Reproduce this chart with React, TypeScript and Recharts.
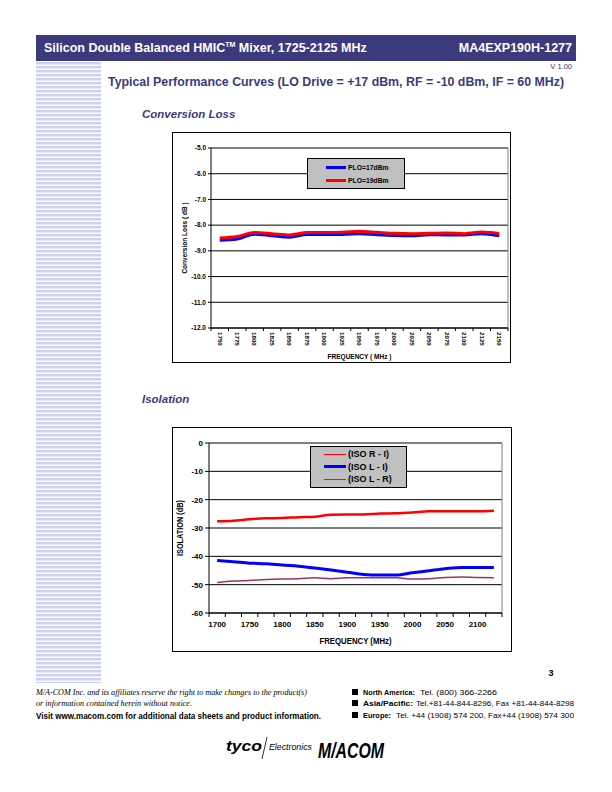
import { CartesianGrid, Legend, Line, LineChart, ReferenceLine, XAxis, YAxis } from 'recharts';

// conversion loss vs frequency
const clFreq = [1750, 1775, 1800, 1825, 1850, 1875, 1900, 1925, 1950, 1975, 2000, 2025, 2050, 2075, 2100, 2125, 2150];
const clPlo17 = [-8.59, -8.54, -8.35, -8.41, -8.47, -8.36, -8.36, -8.36, -8.33, -8.37, -8.4, -8.41, -8.37, -8.38, -8.38, -8.33, -8.41];
const clPlo19 = [-8.5, -8.44, -8.29, -8.33, -8.38, -8.29, -8.29, -8.28, -8.24, -8.28, -8.32, -8.33, -8.32, -8.31, -8.33, -8.27, -8.33];
const clTicksY = [-12, -11, -10, -9, -8, -7, -6, -5];
const clNames = ['PLO=17dBm', 'PLO=19dBm'];

// isolation vs frequency
const isoFreq = [1700, 1725, 1750, 1775, 1800, 1825, 1850, 1875, 1900, 1925, 1950, 1975, 2000, 2025, 2050, 2075, 2100, 2125];
const isoRI = [-27.6, -27.4, -26.9, -26.6, -26.5, -26.2, -26.0, -25.3, -25.2, -25.2, -24.9, -24.8, -24.5, -24.1, -24.1, -24.1, -24.1, -23.9];
const isoLI = [-41.5, -41.9, -42.4, -42.6, -43.1, -43.5, -44.1, -44.8, -45.6, -46.4, -46.6, -46.6, -45.8, -45.1, -44.4, -43.9, -43.9, -43.9];
const isoLR = [-49.2, -48.7, -48.5, -48.2, -48.0, -47.9, -47.6, -47.9, -47.6, -47.6, -47.6, -47.6, -48.0, -47.9, -47.5, -47.3, -47.5, -47.6];
const isoTicksY = [-60, -50, -40, -30, -20, -10, 0];
const isoLabelFreq = [1700, 1750, 1800, 1850, 1900, 1950, 2000, 2050, 2100];
const isoNames = ['(ISO R - I)', '(ISO L - I)', '(ISO L - R)'];

const STEP = 25;
const NAVY = '#3b3a7d';
const FONT = '"Liberation Sans", Arial, sans-serif';

const clData = clFreq.map((f, i) => ({ f, plo17: clPlo17[i], plo19: clPlo19[i] }));
const isoData = isoFreq.map((f, i) => ({ f, ri: isoRI[i], li: isoLI[i], lr: isoLR[i] }));

// Excel style category axis: labels in the middle of a slot, tick marks on slot edges
const edges = (freqs: number[]) => [...freqs.map((f) => f - STEP / 2), freqs[freqs.length - 1] + STEP / 2];
const clTicksX = [...edges(clFreq), ...clFreq].sort((a, b) => a - b);
const isoTicksX = [...edges(isoFreq), ...isoLabelFreq].sort((a, b) => a - b);
const isEdge = (v: number) => Math.abs(v % STEP) > 0.1;

function ClTick(props: any) {
  const { x, y, payload } = props;
  if (isEdge(payload.value)) return <line x1={x} x2={x} y1={y} y2={y + 3} stroke="#000" />;
  return (
    <text transform={`translate(${x - 2.2},${y + 4}) rotate(90)`} fontSize={6.2} fontWeight="bold" fill="#000">
      {payload.value}
    </text>
  );
}

function IsoTick(props: any) {
  const { x, y, payload } = props;
  if (isEdge(payload.value)) return <line x1={x} x2={x} y1={y} y2={y + 4} stroke="#000" />;
  return (
    <text x={x} y={y + 14} textAnchor="middle" fontSize={8} fontWeight="bold" fill="#000">
      {payload.value}
    </text>
  );
}

function BoxLegend({ payload, order, width, rowH, lineX, lineW, fontSize, pad, widths }: any) {
  const items = [...(payload || [])].sort((a: any, b: any) => order.indexOf(a.value) - order.indexOf(b.value));
  return (
    <div
      style={{
        width,
        background: '#c0c0c0',
        border: '1px solid #000',
        boxSizing: 'border-box',
        padding: `${pad}px 0`,
        fontFamily: FONT,
      }}
    >
      {items.map((p: any) => (
        <div key={p.value} style={{ display: 'flex', alignItems: 'center', height: rowH, paddingLeft: lineX }}>
          <span style={{ width: lineW, height: 0, borderTop: `${widths[p.value] || 2}px solid ${p.color}` }} />
          <span style={{ marginLeft: 2, fontSize, fontWeight: 'bold', color: '#000', whiteSpace: 'nowrap' }}>{p.value}</span>
        </div>
      ))}
    </div>
  );
}

function ConversionLossChart() {
  return (
    <div
      style={{
        position: 'absolute',
        left: 172,
        top: 132,
        width: 339,
        height: 231,
        border: '1px solid #000',
        boxSizing: 'border-box',
        background: '#fff',
        fontFamily: FONT,
      }}
    >
      <LineChart width={337} height={229} data={clData} margin={{ top: 15, right: 2, bottom: 0, left: 0 }}>
        <CartesianGrid vertical={false} stroke="#000" strokeWidth={1} />
        <XAxis
          dataKey="f"
          type="number"
          domain={[clFreq[0] - STEP / 2, clFreq[clFreq.length - 1] + STEP / 2]}
          ticks={clTicksX}
          interval={0}
          height={34}
          tickLine={false}
          tickSize={0}
          tickMargin={0}
          axisLine={{ stroke: '#000' }}
          tick={<ClTick />}
          label={{
            content: (p: any) => (
              <text
                x={p.viewBox.x + p.viewBox.width / 2}
                y={p.viewBox.y + 31}
                textAnchor="middle"
                fontSize={6.5}
                fontWeight="bold"
                fill="#000"
              >
                FREQUENCY ( MHz )
              </text>
            ),
          }}
        />
        <YAxis
          type="number"
          domain={[-12, -5]}
          ticks={clTicksY}
          interval={0}
          width={38}
          tickSize={3}
          tickMargin={2}
          tickLine={{ stroke: '#000' }}
          axisLine={{ stroke: '#000' }}
          tickFormatter={(v: number) => v.toFixed(1)}
          tick={{ fontSize: 6.5, fontWeight: 'bold', fill: '#000' }}
          label={{
            content: (p: any) => (
              <text
                transform={`translate(${p.viewBox.x + 14},${p.viewBox.y + p.viewBox.height / 2}) rotate(-90)`}
                textAnchor="middle"
                fontSize={6.5}
                fontWeight="bold"
                fill="#000"
              >
                Conversion Loss ( dB )
              </text>
            ),
          }}
        />
        <ReferenceLine y={-5} stroke="#808080" />
        <ReferenceLine x={clFreq[clFreq.length - 1] + STEP / 2} stroke="#808080" />
        <Legend
          layout="vertical"
          align="center"
          verticalAlign="middle"
          wrapperStyle={{ left: 134, top: 25, width: 98 }}
          content={(p: any) => (
            <BoxLegend
              payload={p.payload}
              order={clNames}
              width={98}
              rowH={13}
              pad={1.5}
              lineX={18}
              lineW={20}
              fontSize={6.8}
              widths={{ [clNames[0]]: 3, [clNames[1]]: 3 }}
            />
          )}
        />
        <Line type="monotone" dataKey="plo17" name={clNames[0]} stroke="#0000ff" strokeWidth={3} dot={false} isAnimationActive={false} />
        <Line type="monotone" dataKey="plo19" name={clNames[1]} stroke="#ff0000" strokeWidth={3} dot={false} isAnimationActive={false} />
      </LineChart>
    </div>
  );
}

function IsolationChart() {
  return (
    <div
      style={{
        position: 'absolute',
        left: 172,
        top: 427,
        width: 340,
        height: 225,
        border: '1px solid #000',
        boxSizing: 'border-box',
        background: '#fff',
        fontFamily: FONT,
      }}
    >
      <LineChart width={338} height={223} data={isoData} margin={{ top: 15, right: 9, bottom: 0, left: 0 }}>
        <CartesianGrid vertical={false} stroke="#000" strokeWidth={1} />
        <XAxis
          dataKey="f"
          type="number"
          domain={[isoFreq[0] - STEP / 2, isoFreq[isoFreq.length - 1] + STEP / 2]}
          ticks={isoTicksX}
          interval={0}
          height={38}
          tickLine={false}
          tickSize={0}
          tickMargin={0}
          axisLine={{ stroke: '#000' }}
          tick={<IsoTick />}
          label={{
            content: (p: any) => (
              <text
                x={p.viewBox.x + p.viewBox.width / 2}
                y={p.viewBox.y + 31}
                textAnchor="middle"
                fontSize={8.5}
                fontWeight="bold"
                fill="#000"
                textLength={72}
                lengthAdjust="spacingAndGlyphs"
              >
                FREQUENCY (MHz)
              </text>
            ),
          }}
        />
        <YAxis
          type="number"
          domain={[-60, 0]}
          ticks={isoTicksY}
          interval={0}
          width={36}
          tickSize={4}
          tickMargin={2}
          tickLine={{ stroke: '#000' }}
          axisLine={{ stroke: '#000' }}
          tick={{ fontSize: 8, fontWeight: 'bold', fill: '#000' }}
          label={{
            content: (p: any) => (
              <text
                transform={`translate(${p.viewBox.x + 10},${p.viewBox.y + p.viewBox.height / 2}) rotate(-90)`}
                textAnchor="middle"
                fontSize={8.5}
                fontWeight="bold"
                fill="#000"
                textLength={56}
                lengthAdjust="spacingAndGlyphs"
              >
                ISOLATION (dB)
              </text>
            ),
          }}
        />
        <ReferenceLine y={0} stroke="#808080" />
        <ReferenceLine x={isoFreq[isoFreq.length - 1] + STEP / 2} stroke="#808080" />
        <Legend
          layout="vertical"
          align="center"
          verticalAlign="middle"
          wrapperStyle={{ left: 137, top: 18, width: 97 }}
          content={(p: any) => (
            <BoxLegend
              payload={p.payload}
              order={isoNames}
              width={97}
              rowH={12.5}
              pad={1}
              lineX={13}
              lineW={22}
              fontSize={9}
              widths={{ [isoNames[0]]: 1.5, [isoNames[1]]: 3, [isoNames[2]]: 1.5 }}
            />
          )}
        />
        <Line type="monotone" dataKey="ri" name={isoNames[0]} stroke="#ff0000" strokeWidth={2.5} dot={false} isAnimationActive={false} />
        <Line type="monotone" dataKey="li" name={isoNames[1]} stroke="#0000ff" strokeWidth={3} dot={false} isAnimationActive={false} />
        <Line type="monotone" dataKey="lr" name={isoNames[2]} stroke="#993366" strokeWidth={1.5} dot={false} isAnimationActive={false} />
      </LineChart>
    </div>
  );
}

function PageDecor() {
  return (
    <svg width={612} height={792} style={{ position: 'absolute', left: 0, top: 0 }} fontFamily={FONT}>
      <defs>
        <pattern id="stripes" width={4} height={4} patternUnits="userSpaceOnUse" y={62}>
          <rect width={4} height={2.5} fill="#cdd0f6" />
        </pattern>
      </defs>
      <rect x={36} y={35} width={540} height={26} fill={NAVY} />
      <text x={44} y={52} fill="#fff" fontSize={12.5} fontWeight="bold">
        Silicon Double Balanced HMIC
        <tspan fontSize={7} dy={-5}>TM</tspan>
        <tspan dy={5}> Mixer, 1725-2125 MHz</tspan>
      </text>
      <text x={572} y={52} fill="#fff" fontSize={12.5} fontWeight="bold" textAnchor="end">
        MA4EXP190H-1277
      </text>
      <rect x={36} y={62} width={65} height={621} fill="url(#stripes)" />
      <text x={572} y={69} fontSize={7.5} fill={NAVY} textAnchor="end">V 1.00</text>
      <text x={108} y={86} fontSize={12.5} fontWeight="bold" fill={NAVY} textLength={456} lengthAdjust="spacingAndGlyphs">
        Typical Performance Curves (LO Drive = +17 dBm, RF = -10 dBm, IF = 60 MHz)
      </text>
      <text x={142} y={118} fontSize={11.5} fontWeight="bold" fontStyle="italic" fill={NAVY}>Conversion Loss</text>
      <text x={142} y={403} fontSize={11.5} fontWeight="bold" fontStyle="italic" fill={NAVY}>Isolation</text>

      <text x={551} y={676} fontSize={9} fontWeight="bold" textAnchor="middle">3</text>

      <g fontFamily='"Liberation Serif", "Times New Roman", serif' fontStyle="italic" fontSize={8}>
        <text x={36} y={695} textLength={271} lengthAdjust="spacingAndGlyphs">
          M/A-COM Inc. and its affiliates reserve the right to make changes to the product(s)
        </text>
        <text x={36} y={706} textLength={156} lengthAdjust="spacingAndGlyphs">
          or information contained herein without notice.
        </text>
      </g>
      <text x={36} y={719} fontSize={8.5} fontWeight="bold" textLength={285} lengthAdjust="spacingAndGlyphs">
        Visit www.macom.com for additional data sheets and product information.
      </text>

      <g fontSize={7.5}>
        <rect x={352} y={689} width={6} height={6} fill="#000" />
        <rect x={352} y={700} width={6} height={6} fill="#000" />
        <rect x={352} y={712} width={6} height={6} fill="#000" />
        <text x={363} y={695} fontWeight="bold" fontSize={8} textLength={52} lengthAdjust="spacingAndGlyphs">North America:</text>
        <text x={420} y={695} textLength={77} lengthAdjust="spacingAndGlyphs">Tel. (800) 366-2266</text>
        <text x={363} y={706} fontWeight="bold" fontSize={8} textLength={50} lengthAdjust="spacingAndGlyphs">Asia/Pacific:</text>
        <text x={416} y={706} textLength={158} lengthAdjust="spacingAndGlyphs">
          Tel.+81-44-844-8296,  Fax +81-44-844-8298
        </text>
        <text x={363} y={718} fontWeight="bold" fontSize={8} textLength={28} lengthAdjust="spacingAndGlyphs">Europe:</text>
        <text x={396} y={718} textLength={178} lengthAdjust="spacingAndGlyphs">
          Tel. +44 (1908) 574 200,  Fax+44 (1908) 574 300
        </text>
      </g>

      <text x={226} y={751} fontSize={15} fontWeight="bold" fontStyle="italic" textLength={36} lengthAdjust="spacingAndGlyphs">
        tyco
      </text>
      <line x1={267} y1={737} x2={262} y2={759} stroke="#000" strokeWidth={0.8} />
      <text x={269} y={750} fontSize={8.5} fontStyle="italic" textLength={43} lengthAdjust="spacingAndGlyphs">
        Electronics
      </text>
      <text x={318} y={758} fontSize={22} fontWeight="bold" fontStyle="italic" textLength={66} lengthAdjust="spacingAndGlyphs">
        M/ACOM
      </text>
    </svg>
  );
}

export default function App() {
  return (
    <div style={{ position: 'absolute', left: 0, top: 0, width: 612, height: 792, background: '#fff', fontFamily: FONT }}>
      <PageDecor />
      <ConversionLossChart />
      <IsolationChart />
    </div>
  );
}
